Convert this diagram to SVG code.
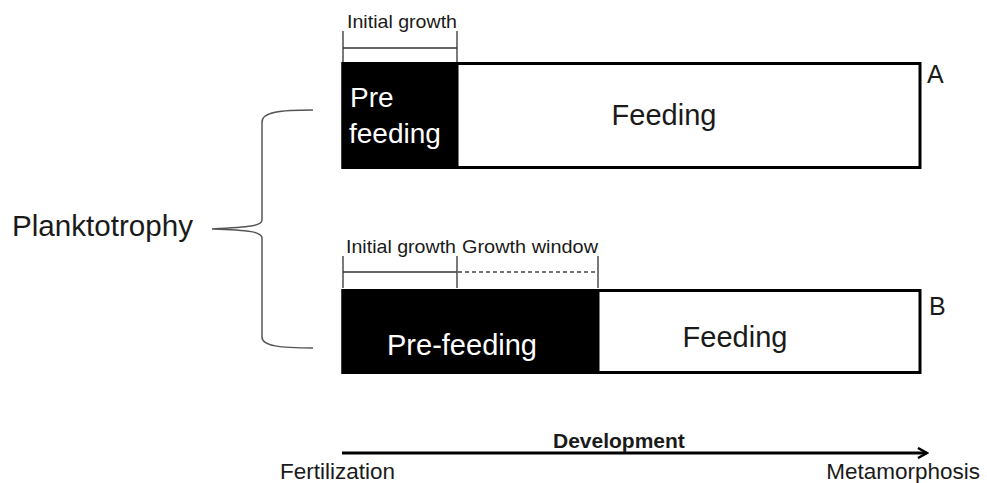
<svg xmlns="http://www.w3.org/2000/svg" width="987" height="483" viewBox="0 0 987 483">
  <style>
    text { font-family: "Liberation Sans", Arial, sans-serif; fill: #1a1a1a; }
    .small { font-size: 19px; }
    .big { font-size: 29px; }
    .white { fill: #ffffff; }
    .box { fill: #ffffff; stroke: #000; stroke-width: 3; }
    .tick { stroke: #333; stroke-width: 1.3; fill: none; }
    .dash { stroke: #444; stroke-width: 1.3; stroke-dasharray: 4 3; fill: none; }
  </style>
  <defs>
    <marker id="arrowhead" markerWidth="12" markerHeight="12" refX="10" refY="6" orient="auto" markerUnits="userSpaceOnUse">
      <path d="M1,1 L10,6 L1,11" fill="none" stroke="#000" stroke-width="2.5"/>
    </marker>
  </defs>
  <rect width="987" height="483" fill="#ffffff"/>

  <!-- Case A -->
  <g id="caseA">
    <rect class="box" x="343" y="63.5" width="577" height="104"/>
    <rect x="341.5" y="62" width="117" height="107" fill="#000"/>
    <text class="big white" x="350" y="107" style="font-size:28px">Pre</text>
    <text class="big white" x="349" y="143" style="font-size:28px">feeding</text>
    <text class="big" x="664" y="125" text-anchor="middle">Feeding</text>
    <text class="big" x="927" y="83" style="font-size:25px">A</text>
  </g>
  <g id="growthA">
    <path class="tick" d="M343,31 V62 M457,31 V62 M343,48 H457"/>
    <text class="small" x="347" y="28" textLength="110" lengthAdjust="spacingAndGlyphs">Initial growth</text>
  </g>

  <!-- Case B -->
  <g id="caseB">
    <rect class="box" x="343" y="290.5" width="577" height="82"/>
    <rect x="341.5" y="289" width="258" height="85" fill="#000"/>
    <text class="big white" x="462" y="355" text-anchor="middle">Pre-feeding</text>
    <text class="big" x="735" y="347" text-anchor="middle">Feeding</text>
    <text class="big" x="929" y="315" style="font-size:25px">B</text>
  </g>
  <g id="growthB">
    <path class="tick" d="M343,256 V288 M457,256 V288 M598,256 V288 M343,272 H457"/>
    <path class="dash" d="M458,272 H598"/>
    <text class="small" x="346" y="253" textLength="110" lengthAdjust="spacingAndGlyphs">Initial growth</text>
    <text class="small" x="462" y="253" textLength="136" lengthAdjust="spacingAndGlyphs">Growth window</text>
  </g>

  <!-- Planktotrophy brace -->
  <g id="planktotrophy">
    <text class="big" x="12" y="236" textLength="181" lengthAdjust="spacingAndGlyphs">Planktotrophy</text>
    <path d="M313,110 C280,110 262,112 262,122 V220 C262,226 250,227 212,229 C250,230 262,232 262,238 V337 C262,346 280,348 313,348" fill="none" stroke="#555" stroke-width="1.5"/>
  </g>

  <!-- Development axis -->
  <g id="axis">
    <line x1="342" y1="453" x2="927" y2="453" stroke="#000" stroke-width="3" marker-end="url(#arrowhead)"/>
    <text x="553" y="448" style="font-size:21px;font-weight:bold">Development</text>
    <text class="big" x="280" y="479" style="font-size:22.5px">Fertilization</text>
    <text class="big" x="980" y="479" text-anchor="end" style="font-size:22.5px">Metamorphosis</text>
  </g>
</svg>
